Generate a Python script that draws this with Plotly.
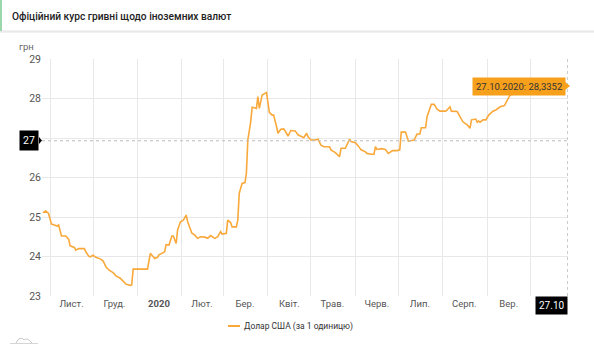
import plotly.graph_objects as go

# ---------------- data ----------------
dates = [
    "2019-10-27", "2019-10-29", "2019-10-31", "2019-11-02", "2019-11-04", "2019-11-06", "2019-11-07",
    "2019-11-08", "2019-11-09", "2019-11-12", "2019-11-14", "2019-11-15", "2019-11-18", "2019-11-19",
    "2019-11-21", "2019-11-25", "2019-11-26", "2019-11-28", "2019-11-29", "2019-12-01", "2019-12-03",
    "2019-12-06", "2019-12-08", "2019-12-10", "2019-12-12", "2019-12-15", "2019-12-17", "2019-12-20",
    "2019-12-22", "2019-12-24", "2019-12-27", "2019-12-28", "2019-12-29", "2020-01-08", "2020-01-10",
    "2020-01-12", "2020-01-13", "2020-01-15", "2020-01-16", "2020-01-18", "2020-01-19", "2020-01-20",
    "2020-01-21", "2020-01-23", "2020-01-25", "2020-01-26", "2020-01-28", "2020-01-29", "2020-01-31",
    "2020-02-02", "2020-02-04", "2020-02-05", "2020-02-08", "2020-02-10", "2020-02-12", "2020-02-14",
    "2020-02-17", "2020-02-19", "2020-02-21", "2020-02-24", "2020-02-26", "2020-02-28", "2020-02-29",
    "2020-03-03", "2020-03-04", "2020-03-06", "2020-03-07", "2020-03-10", "2020-03-11", "2020-03-12",
    "2020-03-14", "2020-03-16", "2020-03-17", "2020-03-18", "2020-03-20", "2020-03-21", "2020-03-24",
    "2020-03-25", "2020-03-26", "2020-03-27", "2020-03-28", "2020-03-30", "2020-03-31", "2020-04-01",
    "2020-04-02", "2020-04-04", "2020-04-05", "2020-04-07", "2020-04-08", "2020-04-10", "2020-04-12",
    "2020-04-14", "2020-04-15", "2020-04-17", "2020-04-20", "2020-04-22", "2020-04-25", "2020-04-26",
    "2020-04-28", "2020-04-29", "2020-05-01", "2020-05-04", "2020-05-06", "2020-05-08", "2020-05-10",
    "2020-05-14", "2020-05-15", "2020-05-18", "2020-05-21", "2020-05-22", "2020-05-25", "2020-05-27",
    "2020-05-28", "2020-05-29", "2020-06-01", "2020-06-03", "2020-06-05", "2020-06-08", "2020-06-09",
    "2020-06-12", "2020-06-14", "2020-06-15", "2020-06-16", "2020-06-19", "2020-06-22", "2020-06-24",
    "2020-06-26", "2020-06-27", "2020-06-30", "2020-07-02", "2020-07-03", "2020-07-06", "2020-07-08",
    "2020-07-12", "2020-07-14", "2020-07-16", "2020-07-17", "2020-07-20", "2020-07-21", "2020-07-23",
    "2020-07-24", "2020-07-26", "2020-07-28", "2020-07-30", "2020-08-03", "2020-08-04", "2020-08-06",
    "2020-08-07", "2020-08-11", "2020-08-13", "2020-08-15", "2020-08-18", "2020-08-20", "2020-08-21",
    "2020-08-24", "2020-08-25", "2020-08-26", "2020-08-27", "2020-08-29", "2020-08-31", "2020-09-02",
    "2020-09-05", "2020-09-07", "2020-09-10", "2020-09-13", "2020-09-15", "2020-09-17", "2020-09-19",
    "2020-09-24", "2020-10-01", "2020-10-08", "2020-10-16", "2020-10-27",
]
usd_rate = [
    25.11, 25.15, 25.09, 24.82, 24.80, 24.77, 24.80,
    24.67, 24.52, 24.52, 24.44, 24.27, 24.23, 24.16,
    24.20, 24.20, 24.12, 24.01, 23.99, 24.03, 23.98,
    23.94, 23.89, 23.74, 23.66, 23.59, 23.51, 23.45,
    23.36, 23.30, 23.27, 23.28, 23.68, 23.68, 24.08,
    23.98, 23.95, 23.98, 24.04, 24.08, 24.10, 24.12,
    24.30, 24.29, 24.52, 24.52, 24.33, 24.67, 24.88,
    24.92, 25.05, 24.88, 24.59, 24.54, 24.46, 24.50,
    24.49, 24.46, 24.53, 24.46, 24.50, 24.63, 24.57,
    24.59, 24.92, 24.86, 24.75, 24.75, 24.92, 25.60,
    25.85, 25.87, 26.11, 26.95, 27.41, 27.78, 27.75,
    28.05, 27.75, 27.92, 28.09, 28.13, 28.15, 27.90,
    27.65, 27.58, 27.58, 27.29, 27.12, 27.22, 27.23,
    27.12, 27.05, 27.19, 27.18, 27.08, 27.03, 27.01,
    27.12, 27.03, 26.95, 26.95, 26.97, 26.82, 26.78,
    26.78, 26.70, 26.63, 26.53, 26.74, 26.74, 26.87,
    26.97, 26.91, 26.88, 26.80, 26.70, 26.65, 26.61,
    26.59, 26.59, 26.78, 26.71, 26.73, 26.71, 26.61,
    26.65, 26.68, 26.68, 26.70, 27.15, 27.15, 26.92,
    26.95, 27.10, 27.10, 27.26, 27.26, 27.54, 27.75,
    27.85, 27.85, 27.73, 27.68, 27.68, 27.71, 27.79,
    27.68, 27.67, 27.54, 27.41, 27.33, 27.25, 27.46,
    27.48, 27.40, 27.43, 27.40, 27.46, 27.46, 27.58,
    27.68, 27.71, 27.79, 27.82, 27.96, 28.09, 28.11,
    28.18, 28.30, 28.25, 28.30, 28.3352,
]
series_name = "Долар США (за 1 одиницю)"
title_text = "Офіційний курс гривні щодо іноземних валют"
month_label_dates = ["2019-11-16", "2019-12-16", "2020-01-16", "2020-02-15", "2020-03-16", "2020-04-16",
                     "2020-05-16", "2020-06-16", "2020-07-16", "2020-08-16", "2020-09-16"]
month_labels = ["Лист.", "Груд.", "<b>2020</b>", "Лют.", "Бер.", "Квіт.", "Трав.", "Черв.", "Лип.", "Серп.", "Вер."]
y_ticks = [23, 24, 25, 26, 27, 28, 29]
# the "27" tick text is covered by the crosshair label in the original
y_tick_text = ["23", "24", "25", "26", "", "28", "29"]
crosshair_value = 26.93
crosshair_label = "27"
last_date_label = "27.10"
tooltip_text = "27.10.2020: 28,3352"

# ---------------- layout geometry ----------------
W, H = 594, 350
ML, MR, MT, MB = 42, 26, 59, 54
PW, PH = W - ML - MR, H - MT - MB


def pxx(px):
    return (px - ML) / PW


def pxy(py):
    return (H - MB - py) / PH


LINE = "#f9a93b"
ORANGE = "#f7a01c"
GRID = "#e8e8e8"
FONT = "Roboto"

fig = go.Figure()
fig.add_trace(go.Scatter(
    x=dates, y=usd_rate, mode="lines", name=series_name,
    line=dict(color=LINE, width=1.6), showlegend=False, hoverinfo="skip",
))

shapes = [
    # header
    dict(type="rect", xref="paper", yref="paper", x0=pxx(0), x1=pxx(W), y0=pxy(31), y1=pxy(0),
         fillcolor="white", line=dict(width=0), layer="below"),
    dict(type="rect", xref="paper", yref="paper", x0=pxx(0), x1=pxx(W), y0=pxy(33), y1=pxy(31),
         fillcolor="rgba(0,0,0,0.06)", line=dict(width=0)),
    dict(type="line", xref="paper", yref="paper", x0=pxx(0), x1=pxx(W), y0=pxy(31), y1=pxy(31),
         line=dict(color="#e2e2e2", width=1)),
    dict(type="rect", xref="paper", yref="paper", x0=pxx(0), x1=pxx(2), y0=pxy(31), y1=pxy(0),
         fillcolor="#9ad7ad", line=dict(width=0)),
    # crosshairs
    dict(type="line", xref="paper", yref="y", x0=0, x1=1, y0=crosshair_value, y1=crosshair_value,
         line=dict(color="#bbbbbb", width=1, dash="dot")),
    dict(type="line", xref="x", yref="paper", x0=dates[-1], x1=dates[-1], y0=0, y1=1,
         line=dict(color="#cccccc", width=1, dash="dot")),
    # tooltip pointer
    dict(type="path", xref="paper", yref="paper",
         path=f"M {pxx(565)} {pxy(82)} L {pxx(570)} {pxy(86)} L {pxx(565)} {pxy(90)} Z",
         fillcolor=ORANGE, line=dict(width=0)),
    # crosshair label pointer
    dict(type="path", xref="paper", yref="paper",
         path=f"M {pxx(39)} {pxy(137)} L {pxx(42)} {pxy(140.5)} L {pxx(39)} {pxy(144)} Z",
         fillcolor="black", line=dict(width=0)),
    # legend sample
    dict(type="line", xref="paper", yref="paper", x0=pxx(228), x1=pxx(240), y0=pxy(326), y1=pxy(326),
         line=dict(color=LINE, width=2)),
    # small navigator icon bottom-left
    dict(type="path", xref="paper", yref="paper",
         path=(f"M {pxx(16)} {pxy(343)} Q {pxx(20)} {pxy(335)} {pxx(24)} {pxy(340)} "
               f"Q {pxx(27)} {pxy(337)} {pxx(32)} {pxy(343)}"),
         line=dict(color="#c8c8c8", width=1)),
    dict(type="line", xref="paper", yref="paper", x0=pxx(10), x1=pxx(38), y0=pxy(343.5), y1=pxy(343.5),
         line=dict(color="#d5d5d5", width=1)),
]

annotations = [
    dict(text=title_text, xref="paper", yref="paper", x=pxx(10), y=pxy(16), xanchor="left",
         yanchor="middle", showarrow=False,
         font=dict(family=FONT, size=10.2, color="#222222", weight=500)),
    dict(text="грн", xref="paper", yref="paper", x=pxx(36), y=pxy(47), xanchor="right",
         yanchor="middle", showarrow=False, font=dict(family=FONT, size=9.5, color="#666666")),
    dict(text=tooltip_text, xref="x", yref="y", x=dates[-1], y=usd_rate[-1], xanchor="right",
         yanchor="middle", xshift=-2, yshift=-1, showarrow=False, bgcolor=ORANGE, borderpad=3,
         font=dict(family=FONT, size=9.5, color="#333333")),
    dict(text=crosshair_label, xref="paper", yref="y", x=pxx(39), y=crosshair_value, xanchor="right",
         yanchor="middle", showarrow=False, bgcolor="black", borderpad=3,
         font=dict(family=FONT, size=10.5, color="white")),
    dict(text=last_date_label, xref="x", yref="paper", x=dates[-1], y=0, xanchor="right",
         yanchor="top", showarrow=False, bgcolor="black", borderpad=3,
         font=dict(family=FONT, size=10, color="white")),
    dict(text=series_name, xref="paper", yref="paper", x=pxx(242), y=pxy(326), xanchor="left",
         yanchor="middle", showarrow=False, font=dict(family=FONT, size=8.5, color="#333333")),
]

fig.update_layout(
    width=W, height=H,
    margin=dict(l=ML, r=MR, t=MT, b=MB, pad=0),
    paper_bgcolor="white", plot_bgcolor="white",
    font=dict(family=FONT, size=10, color="#555555"),
    showlegend=False,
    shapes=shapes, annotations=annotations,
    xaxis=dict(
        type="date", range=["2019-10-26 10:00", "2020-10-27 08:00"],
        tickmode="array", tickvals=month_label_dates, ticktext=month_labels,
        showgrid=False, zeroline=False, showline=False, ticks="",
        tickfont=dict(family=FONT, size=9.5, color="#555555"),
        minor=dict(tickmode="linear", tick0="2019-11-01", dtick="M1", showgrid=True,
                   gridcolor=GRID, gridwidth=1, ticks=""),
        fixedrange=True,
    ),
    yaxis=dict(
        range=[23, 29], tickmode="array", tickvals=y_ticks, ticktext=y_tick_text,
        showgrid=True, gridcolor=GRID, gridwidth=1, zeroline=False, showline=False, ticks="",
        tickfont=dict(family=FONT, size=10.5, color="#555555"),
        fixedrange=True,
    ),
)

fig.write_html("out.html")
